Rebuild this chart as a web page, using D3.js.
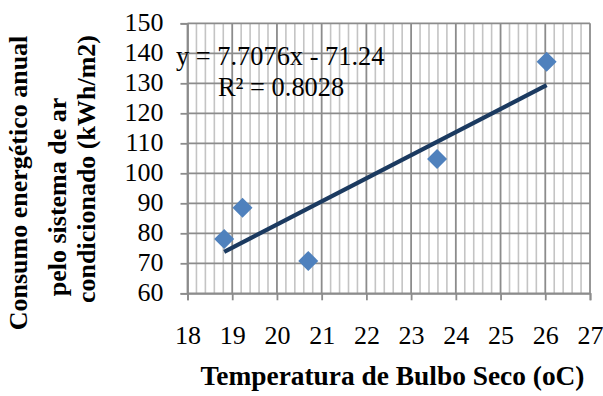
<!DOCTYPE html>
<html>
<head>
<meta charset="utf-8">
<script src="https://cdn.jsdelivr.net/npm/d3@7"></script>
<style>
  html, body { margin: 0; padding: 0; background: #fff; }
  svg { display: block; }
</style>
</head>
<body>
<svg id="chart" width="603" height="396"></svg>
<script>
// Annual A/C energy consumption versus dry-bulb temperature
const temperatura = [18.82, 19.23, 20.70, 23.58, 26.03];
const consumo = [78.1, 88.5, 70.8, 104.8, 137.2];

// Linear trendline as reported on the chart
const slope = 7.7076;
const intercept = -71.24;
const r2 = 0.8028;

const xTicks = [18, 19, 20, 21, 22, 23, 24, 25, 26, 27];
const yTicks = [60, 70, 80, 90, 100, 110, 120, 130, 140, 150];
const xTitle = "Temperatura de Bulbo Seco (oC)";
const yTitle = ["Consumo energético anual", "pelo sistema de ar", "condicionado (kWh/m2)"];

const serif = "Liberation Serif";
const svg = d3.select("#chart");

const x = d3.scaleLinear().domain([18, 27]).range([187.5, 590]);
const y = d3.scaleLinear().domain([60, 150]).range([293.3, 23.3]);

const majorCol = "#8c8c8c";
const minorCol = "#c4c4c4";

// minor vertical gridlines every 0.2
const minorX = d3.range(18, 27.001, 0.2).filter(v => Math.abs(v - Math.round(v)) > 1e-6);
svg.append("g").selectAll("line").data(minorX).join("line")
  .attr("x1", d => x(d)).attr("x2", d => x(d))
  .attr("y1", y(150)).attr("y2", y(60))
  .attr("stroke", minorCol).attr("stroke-width", 1.6);

// major vertical gridlines
svg.append("g").selectAll("line").data(xTicks).join("line")
  .attr("x1", d => x(d)).attr("x2", d => x(d))
  .attr("y1", y(150)).attr("y2", y(60))
  .attr("stroke", majorCol).attr("stroke-width", 1.8);

// horizontal gridlines
svg.append("g").selectAll("line").data(yTicks).join("line")
  .attr("x1", x(18)).attr("x2", x(27))
  .attr("y1", d => y(d)).attr("y2", d => y(d))
  .attr("stroke", majorCol).attr("stroke-width", 1.8);

// axes
const xAxis = d3.axisBottom(x).tickValues(xTicks).tickSize(7).tickPadding(25).tickFormat(d3.format("d"));
const gx = svg.append("g").attr("transform", `translate(0,${y(60)})`).call(xAxis);
const yAxis = d3.axisLeft(y).tickValues(yTicks).tickSize(7).tickPadding(17).tickFormat(d3.format("d"));
const gy = svg.append("g").attr("transform", `translate(${x(18)},0)`).call(yAxis);
[gx, gy].forEach(g => {
  g.attr("font-family", null).attr("font-size", null);
  g.select(".domain").attr("stroke", majorCol).attr("stroke-width", 1.8);
  g.selectAll(".tick line").attr("stroke", majorCol).attr("stroke-width", 1.8);
  g.selectAll(".tick text")
    .style("font-family", serif).style("font-size", "26px").attr("fill", "#000");
});
gy.selectAll(".tick text").attr("dy", "0.28em");

// trendline across the range of the data
const xr = d3.extent(temperatura);
svg.append("line")
  .attr("x1", x(xr[0])).attr("y1", y(slope * xr[0] + intercept))
  .attr("x2", x(xr[1])).attr("y2", y(slope * xr[1] + intercept))
  .attr("stroke", "#1b3a60").attr("stroke-width", 4.2);

// data markers (diamonds)
const diamond = d3.symbol().type(d3.symbolSquare).size(200);
svg.append("g").selectAll("path").data(temperatura).join("path")
  .attr("d", diamond)
  .attr("transform", (d, i) => `translate(${x(d)},${y(consumo[i])}) rotate(45)`)
  .attr("fill", "#4f81bd");

// trendline equation
const eq = svg.append("g").style("font-family", serif).style("font-size", "26.4px");
eq.append("text").attr("x", 176).attr("y", 65)
  .text(`y = ${slope}x - ${Math.abs(intercept)}`);
eq.append("text").attr("x", 218).attr("y", 96)
  .text(`R² = ${r2}`);

// axis titles
svg.append("text").attr("x", 392.5).attr("y", 385)
  .attr("text-anchor", "middle")
  .style("font-family", serif).style("font-size", "27.4px").style("font-weight", "bold")
  .text(xTitle);

const yPos = [[27, 183], [66, 197], [95, 169]];
yTitle.forEach((t, i) => {
  svg.append("text")
    .attr("transform", `translate(${yPos[i][0]},${yPos[i][1]}) rotate(-90)`)
    .attr("text-anchor", "middle")
    .style("font-family", serif).style("font-size", "26px").style("font-weight", "bold")
    .text(t);
});
</script>
</body>
</html>
